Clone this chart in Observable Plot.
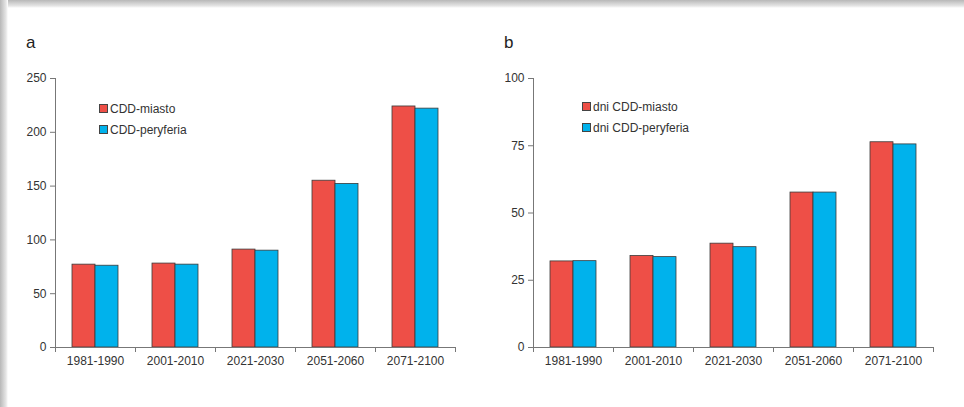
<!DOCTYPE html>
<html>
<head>
<meta charset="utf-8">
<script src="https://cdn.jsdelivr.net/npm/d3@7"></script>
<script src="https://cdn.jsdelivr.net/npm/@observablehq/plot@0.6"></script>
<style>
  html, body { margin: 0; padding: 0; }
  body { width: 964px; height: 407px; overflow: hidden; position: relative; background: #fff;
         font-family: "Liberation Sans", Arial, sans-serif; }
  .topshade { position: absolute; left: 0; top: 0; width: 964px; height: 8px;
              background: linear-gradient(#b8b8b8, #e6e6e6 75%, #ffffff); }
  .leftshade { position: absolute; left: 0; top: 0; width: 8px; height: 407px;
               background: linear-gradient(to right, #b8b8b8, #e6e6e6 75%, #ffffff); }
  .panel { position: absolute; top: 0; }
  .plabel { position: absolute; font-size: 17px; color: #222; }
  .legend { position: absolute; font-size: 12px; color: #333; line-height: 21px; }
  .legend .sw { display: inline-block; width: 7px; height: 7px; border: 1px solid #444;
                margin-right: 2px; vertical-align: 0px; }
</style>
</head>
<body>
<div class="topshade"></div>
<div class="leftshade"></div>
<div id="pa" class="panel" style="left:0px"></div>
<div id="pb" class="panel" style="left:482px"></div>
<div class="plabel" style="left:26px; top:33px">a</div>
<div class="plabel" style="left:504px; top:33px">b</div>
<div class="legend" style="left:99px; top:99px">
  <div><span class="sw" style="background:#ee4f47"></span>CDD-miasto</div>
  <div><span class="sw" style="background:#00b2ec"></span>CDD-peryferia</div>
</div>
<div class="legend" style="left:582px; top:97px">
  <div><span class="sw" style="background:#ee4f47"></span>dni CDD-miasto</div>
  <div><span class="sw" style="background:#00b2ec"></span>dni CDD-peryferia</div>
</div>
<script>
const periods = ["1981-1990", "2001-2010", "2021-2030", "2051-2060", "2071-2100"];
const cddCity = [77, 78, 91, 155, 224];
const cddSuburb = [76, 77, 90, 152, 222];
const daysCity = [32, 34, 38.6, 57.6, 76.3];
const daysSuburb = [32.1, 33.6, 37.3, 57.6, 75.5];
const ticksA = [0, 50, 100, 150, 200, 250];
const ticksB = [0, 25, 50, 75, 100];

const RED = "#ee4f47", BLUE = "#00b2ec";

function panel(city, suburb, yTicks, opts) {
  const rows = periods.map((p, i) => ({period: p, city: city[i], suburb: suburb[i]}));
  const last = [periods[periods.length - 1]];
  return Plot.plot({
    width: 482,
    height: 407,
    marginLeft: opts.marginLeft,
    marginRight: opts.marginRight,
    marginTop: 78,
    marginBottom: 60,
    style: {fontFamily: "'Liberation Sans', Arial, sans-serif", fontSize: "12px", color: "#333", background: "transparent"},
    x: {domain: periods, padding: 0, axis: null},
    y: {domain: [0, yTicks[yTicks.length - 1]], axis: null},
    marks: [
      Plot.barY(rows, {x: "period", y: "city", fill: RED, stroke: "#3a3a3a", strokeWidth: 0.8,
                       insetLeft: 17, insetRight: 40}),
      Plot.barY(rows, {x: "period", y: "suburb", fill: BLUE, stroke: "#3a3a3a", strokeWidth: 0.8,
                       insetLeft: 40, insetRight: 17}),
      Plot.axisY({ticks: yTicks, tickSize: 5, tickPadding: 4, stroke: "#777", fill: "#333", label: null}),
      Plot.ruleX([periods[0]], {x: d => d, dx: -40, stroke: "#777"}),
      Plot.ruleY([0], {stroke: "#777"}),
      Plot.axisX({tickSize: 5, stroke: "#777", text: null, dx: -40, label: null}),
      Plot.axisX(last, {tickSize: 5, stroke: "#777", text: null, dx: 40, label: null}),
      Plot.axisX({tickSize: 0, tickPadding: 9, fill: "#333", label: null})
    ]
  });
}

document.getElementById("pa").append(panel(cddCity, cddSuburb, ticksA, {marginLeft: 55, marginRight: 27}));
document.getElementById("pb").append(panel(daysCity, daysSuburb, ticksB, {marginLeft: 51, marginRight: 31}));
</script>
</body>
</html>
